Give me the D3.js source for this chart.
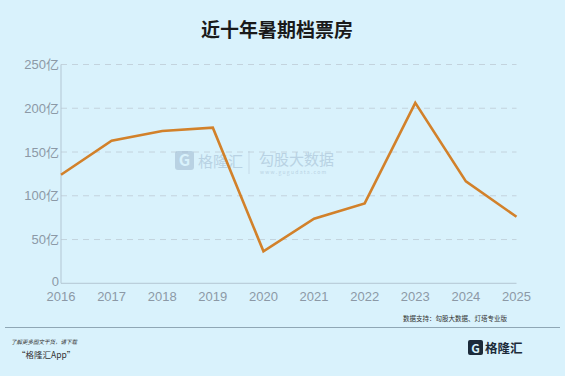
<!DOCTYPE html>
<html><head><meta charset="utf-8">
<script src="https://cdn.jsdelivr.net/npm/d3@7"></script>
<style>html,body{margin:0;padding:0;background:#d9f2fc;}svg{display:block;}</style>
</head><body>
<svg id="c" width="565" height="376"></svg>
<script>
const years = ["2016","2017","2018","2019","2020","2021","2022","2023","2024","2025"];
const boxOffice = [124, 163, 174, 177.8, 36.5, 73.8, 91.3, 206.2, 116.4, 76];
const yTicks = [0, 50, 100, 150, 200, 250];
const yTickLabels = ["0", "50亿", "100亿", "150亿", "200亿", "250亿"];

const svg = d3.select("#c");
const font = "'Noto Sans CJK SC','Noto Sans',sans-serif";
const numFont = "'Liberation Sans','Noto Sans CJK SC',sans-serif";
svg.append("rect").attr("width",565).attr("height",376).attr("fill","#d9f2fc");

const x = d3.scalePoint().domain(years).range([61, 516.5]);
const y = d3.scaleLinear().domain([0, 250]).range([283.3, 64.5]);

svg.append("text").attr("x",277).attr("y",37).attr("text-anchor","middle")
  .attr("font-family",font).attr("font-weight","bold").attr("font-size",19).attr("fill","#1a1a1a")
  .text("近十年暑期档票房");

// grid
const g = svg.append("g");
g.selectAll("line.grid").data(yTicks.filter(d=>d>0)).join("line")
  .attr("x1",61).attr("x2",516.5).attr("y1",d=>y(d)).attr("y2",d=>y(d))
  .attr("stroke","#c3d3dd").attr("stroke-width",1).attr("stroke-dasharray","6,5");

// watermark
const wm = svg.append("g").attr("opacity",0.55);
wm.append("rect").attr("x",175).attr("y",151).attr("width",19).attr("height",19).attr("rx",3).attr("fill","#9fb9cf");
wm.append("text").attr("x",184.5).attr("y",166).attr("text-anchor","middle").attr("font-family",font).attr("font-weight","bold").attr("font-size",16).attr("fill","#d9f2fc").text("G");
wm.append("text").attr("x",198).attr("y",167).attr("font-family",font).attr("font-size",15).attr("fill","#9fb9cf").text("格隆汇");
wm.append("line").attr("x1",249).attr("x2",249).attr("y1",151).attr("y2",174).attr("stroke","#b5c9d8");
wm.append("text").attr("x",259).attr("y",165).attr("font-family",font).attr("font-size",15).attr("fill","#9fb9cf").text("勾股大数据");
wm.append("text").attr("x",260).attr("y",174).attr("font-family",font).attr("font-size",5).attr("letter-spacing",1.3).attr("fill","#9fb9cf").text("www.gugudata.com");

// axes lines
svg.append("line").attr("x1",61).attr("x2",61).attr("y1",y(250)).attr("y2",y(0)).attr("stroke","#b3c6d3").attr("stroke-width",1);
svg.append("line").attr("x1",61).attr("x2",516.5).attr("y1",y(0)).attr("y2",y(0)).attr("stroke","#b3c6d3").attr("stroke-width",1);

// y labels
svg.selectAll("text.yl").data(yTicks).join("text")
  .attr("x",59).attr("y",d=>y(d)+4.5 - (d===0?1.5:0)).attr("text-anchor","end")
  .attr("font-family",numFont).attr("font-size",13).attr("fill","#8c99a6")
  .text((d,i)=>yTickLabels[i]);

// x labels
svg.selectAll("text.xl").data(years).join("text")
  .attr("x",d=>x(d)).attr("y",300.5).attr("text-anchor","middle")
  .attr("font-family",numFont).attr("font-size",13).attr("fill","#8c99a6")
  .text(d=>d);

// line
const line = d3.line().x((d,i)=>x(years[i])).y(d=>y(d));
svg.append("path").datum(boxOffice).attr("d",line).attr("fill","none")
  .attr("stroke","#d2812a").attr("stroke-width",2.6).attr("stroke-linejoin","miter");

// footer
svg.append("text").attr("x",507).attr("y",321).attr("text-anchor","end")
  .attr("font-family",font).attr("font-size",6.5).attr("fill","#333").text("数据支持：勾股大数据、灯塔专业版");
svg.append("line").attr("x1",5).attr("x2",560).attr("y1",327.5).attr("y2",327.5).attr("stroke","#8fa7b5").attr("stroke-width",1);
svg.append("text").attr("x",11).attr("y",344).attr("font-family",font).attr("font-size",5.5).attr("font-style","italic").attr("fill","#333").text("了解更多图文干货，请下载");
svg.append("text").attr("x",17).attr("y",358).attr("font-family",font).attr("font-size",8.5).attr("fill","#333").text("“格隆汇App”");
// logo
svg.append("rect").attr("x",468).attr("y",340).attr("width",15).attr("height",15).attr("rx",2).attr("fill","#1c2b3a");
svg.append("text").attr("x",475.5).attr("y",352.5).attr("text-anchor","middle").attr("font-family",font).attr("font-weight","bold").attr("font-size",12).attr("fill","#d9f2fc").text("G");
svg.append("text").attr("x",485).attr("y",353).attr("font-family",font).attr("font-weight","bold").attr("font-size",12.5).attr("fill","#1c2b3a").text("格隆汇");
</script>
</body></html>
